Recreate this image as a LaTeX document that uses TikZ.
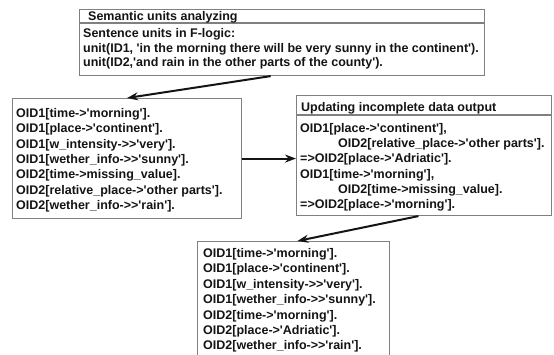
\documentclass[tikz,border=0pt]{standalone}
\usepackage{fontspec}
\newfontfamily\lsans{Liberation Sans}
\usetikzlibrary{calc,arrows.meta}
\definecolor{boxgray}{RGB}{128,128,128}
\definecolor{ink}{RGB}{20,20,20}
\begin{document}
\begin{tikzpicture}[x=1pt,y=-1pt,
  box/.style={draw=boxgray, line width=1.1pt, inner sep=0pt, anchor=north west, fill=white},
  sep/.style={draw=boxgray, line width=1.1pt},
  txt/.style={anchor=base west, inner sep=0pt, text=ink, font=\lsans\bfseries\fontsize{12.5}{15}\selectfont},
  conn/.style={line width=2pt, draw=ink, -{Stealth[length=11pt,width=8pt]}}]
\useasboundingbox (0,0) rectangle (554,354);
\fill[white] (0,0) rectangle (554,354);

% top box
\node[box, minimum width=405pt, minimum height=66pt] (tbox) at (79,9) {};
\draw[sep] ($(tbox.north west)+(0,14)$) -- ($(tbox.north east)+(0,14)$);
\node[txt] (t0) at (88,20.5) {Semantic units analyzing};
\node[txt] (t1) at (83,37.5) {Sentence units in F-logic:};
\node[txt] (t2) at (83,52) {unit(ID1, 'in the morning there will be very sunny in the continent').};
\node[txt] (t3) at (83,66.5) {unit(ID2,'and rain in the other parts of the county').};

% left box
\node[box, minimum width=229pt, minimum height=120pt] (lbox) at (12,98) {};
\node[txt] (l1) at (16,117.5) {OID1[time->'morning'].};
\node[txt] (l2) at (16,132.8) {OID1[place->'continent'].};
\node[txt] (l3) at (16,148.1) {OID1[w\_intensity->>'very'].};
\node[txt] (l4) at (16,163.4) {OID1[wether\_info->>'sunny'].};
\node[txt] (l5) at (16,178.7) {OID2[time->missing\_value].};
\node[txt] (l6) at (16,194.0) {OID2[relative\_place->'other parts'].};
\node[txt] (l7) at (16,209.3) {OID2[wether\_info->>'rain'].};

% right box
\node[box, minimum width=255pt, minimum height=120pt] (rbox) at (296,95) {};
\draw[sep] ($(rbox.north west)+(0,20)$) -- ($(rbox.north east)+(0,20)$);
\node[txt] (r0) at (301,111.5) {Updating incomplete data output};
\node[txt] (r1) at (300,132.5) {OID1[place->'continent'],};
\node[txt] (r2) at (338,147.7) {OID2[relative\_place->'other parts'].};
\node[txt] (r3) at (300,162.9) {=>OID2[place->'Adriatic'].};
\node[txt] (r4) at (300,178.1) {OID1[time->'morning'],};
\node[txt] (r5) at (338,193.3) {OID2[time->missing\_value].};
\node[txt] (r6) at (300,208.5) {=>OID2[place->'morning'].};

% bottom box
\node[box, minimum width=192pt, minimum height=130pt] (bbox) at (197,241) {};
\node[txt] (b1) at (203,257.5) {OID1[time->'morning'].};
\node[txt] (b2) at (203,272.9) {OID1[place->'continent'].};
\node[txt] (b3) at (203,288.3) {OID1[w\_intensity->>'very'].};
\node[txt] (b4) at (203,303.7) {OID1[wether\_info->>'sunny'].};
\node[txt] (b5) at (203,319.1) {OID2[time->'morning'].};
\node[txt] (b6) at (203,334.5) {OID2[place->'Adriatic'].};
\node[txt] (b7) at (203,349.9) {OID2[wether\_info->>'rain'].};

% connectors
\draw[conn] ($(tbox.south west)!0.472!(tbox.south east)$) -- (lbox.north);
\draw[conn] (lbox.east) -- (lbox.east -| rbox.west);
\draw[conn] ($(rbox.south west)!0.478!(rbox.south east)$) -- ($(bbox.north west)!0.52!(bbox.north east)$);
\end{tikzpicture}
\end{document}
